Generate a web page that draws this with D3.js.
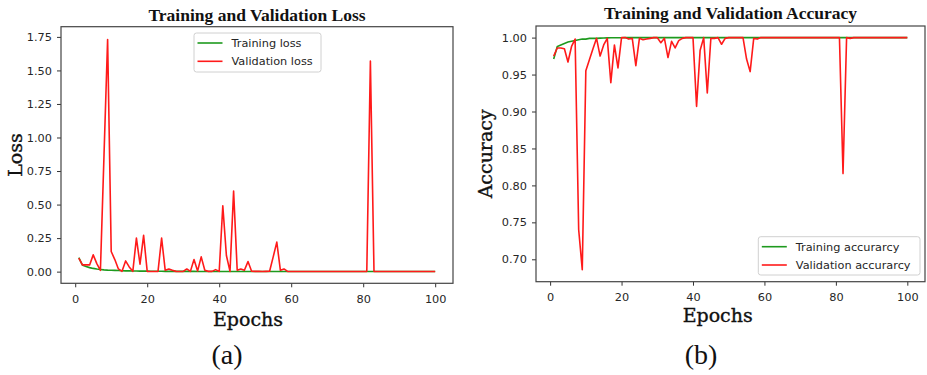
<!DOCTYPE html>
<html>
<head>
<meta charset="utf-8">
<script src="https://cdn.jsdelivr.net/npm/d3@7"></script>
<style>
  body { margin: 0; background: #fff; }
  svg { display: block; }
  .tick text { font-family: "DejaVu Sans", sans-serif; font-size: 11.3px; fill: #262626; }
  .tick line { stroke: #333; }
</style>
</head>
<body>
<svg id="chart" width="927" height="375"></svg>
<script>
// epochs 1..100
const epochs = d3.range(1, 101);

const trainLoss = [
  0.105, 0.048, 0.038, 0.030, 0.024, 0.019, 0.016, 0.013, 0.011, 0.010,
  0.009, 0.008, 0.007, 0.006, 0.006, 0.005, 0.005, 0.004, 0.004, 0.004,
  0.003, 0.003, 0.003, 0.003, 0.002, 0.002, 0.002, 0.002, 0.002, 0.002,
  0.002, 0.002, 0.002, 0.001, 0.001, 0.001, 0.001, 0.001, 0.001, 0.001,
  0.001, 0.001, 0.001, 0.001, 0.001, 0.001, 0.001, 0.001, 0.001, 0.001,
  0.001, 0.001, 0.001, 0.001, 0.001, 0.001, 0.001, 0.001, 0.001, 0.001,
  0.001, 0.001, 0.001, 0.001, 0.001, 0.001, 0.001, 0.001, 0.001, 0.001,
  0.001, 0.001, 0.001, 0.001, 0.001, 0.001, 0.001, 0.001, 0.001, 0.001,
  0.001, 0.001, 0.001, 0.001, 0.001, 0.001, 0.001, 0.001, 0.001, 0.001,
  0.001, 0.001, 0.001, 0.001, 0.001, 0.001, 0.001, 0.001, 0.001, 0.001
];

const valLoss = [
  0.100, 0.050, 0.050, 0.050, 0.125, 0.060, 0.010, 0.870, 1.730, 0.150,
  0.090, 0.020, 0.002, 0.080, 0.035, 0.002, 0.250, 0.055, 0.270, 0.002,
  0.001, 0.001, 0.002, 0.250, 0.010, 0.020, 0.010, 0.002, 0.001, 0.002,
  0.020, 0.002, 0.090, 0.005, 0.110, 0.010, 0.002, 0.002, 0.015, 0.002,
  0.490, 0.120, 0.002, 0.600, 0.010, 0.020, 0.010, 0.075, 0.003, 0.002,
  0.002, 0.001, 0.002, 0.003, 0.110, 0.220, 0.010, 0.020, 0.002, 0.001,
  0.001, 0.001, 0.001, 0.001, 0.001, 0.001, 0.001, 0.001, 0.001, 0.001,
  0.001, 0.001, 0.001, 0.001, 0.001, 0.001, 0.001, 0.001, 0.001, 0.001,
  0.001, 1.570, 0.002, 0.001, 0.001, 0.001, 0.001, 0.001, 0.001, 0.001,
  0.001, 0.001, 0.001, 0.001, 0.001, 0.001, 0.001, 0.001, 0.001, 0.001
];

const trainAcc = [
  0.971, 0.988, 0.990, 0.992, 0.994, 0.995, 0.996, 0.997, 0.998, 0.998,
  0.999, 0.999, 0.999, 0.9993, 0.9995, 0.9996, 0.9997, 0.9998, 0.9998, 0.9999,
  1.0, 1.0, 1.0, 1.0, 1.0, 1.0, 1.0, 1.0, 1.0, 1.0,
  1.0, 1.0, 1.0, 1.0, 1.0, 1.0, 1.0, 1.0, 1.0, 1.0,
  1.0, 1.0, 1.0, 1.0, 1.0, 1.0, 1.0, 1.0, 1.0, 1.0,
  1.0, 1.0, 1.0, 1.0, 1.0, 1.0, 1.0, 1.0, 1.0, 1.0,
  1.0, 1.0, 1.0, 1.0, 1.0, 1.0, 1.0, 1.0, 1.0, 1.0,
  1.0, 1.0, 1.0, 1.0, 1.0, 1.0, 1.0, 1.0, 1.0, 1.0,
  1.0, 1.0, 1.0, 1.0, 1.0, 1.0, 1.0, 1.0, 1.0, 1.0,
  1.0, 1.0, 1.0, 1.0, 1.0, 1.0, 1.0, 1.0, 1.0, 1.0
];

const valAcc = [
  0.975, 0.986, 0.986, 0.985, 0.967, 0.988, 0.998, 0.740, 0.686, 0.955,
  0.970, 0.985, 0.999, 0.975, 0.990, 0.999, 0.939, 0.990, 0.959, 1.000,
  1.000, 0.998, 0.999, 0.962, 0.999, 0.997, 0.998, 0.999, 1.000, 1.000,
  0.993, 0.999, 0.973, 0.995, 0.986, 0.996, 0.999, 1.000, 1.000, 1.000,
  0.907, 0.983, 1.000, 0.925, 0.999, 0.999, 1.000, 0.991, 0.999, 1.000,
  1.000, 1.000, 1.000, 1.000, 0.971, 0.954, 0.999, 0.998, 1.000, 1.000,
  1.000, 1.000, 1.000, 1.000, 1.000, 1.000, 1.000, 1.000, 1.000, 1.000,
  1.000, 1.000, 1.000, 1.000, 1.000, 1.000, 1.000, 1.000, 1.000, 1.000,
  1.000, 0.816, 1.000, 0.999, 1.000, 1.000, 1.000, 1.000, 1.000, 1.000,
  1.000, 1.000, 1.000, 1.000, 1.000, 1.000, 1.000, 1.000, 1.000, 1.000
];

const xTicks = [0, 20, 40, 60, 80, 100];
const lossTicks = [0, 0.25, 0.5, 0.75, 1.0, 1.25, 1.5, 1.75];
const accTicks = [0.70, 0.75, 0.80, 0.85, 0.90, 0.95, 1.00];

const GREEN = '#1e9a1e';
const RED = '#ff1a1a';

const svg = d3.select('#chart');
svg.append('rect').attr('width', 927).attr('height', 375).attr('fill', '#fff');

function drawPanel(cfg) {
  const g = svg.append('g');
  const x = d3.scaleLinear().domain([-3.95, 104.95]).range([cfg.left, cfg.right]);
  const y = d3.scaleLinear().domain(cfg.yDomain).range([cfg.bottom, cfg.top]);

  // axes
  g.append('g')
    .attr('transform', `translate(0,${cfg.bottom})`)
    .call(d3.axisBottom(x).tickValues(xTicks).tickSize(4).tickPadding(7.5).tickFormat(d3.format('d')))
    .call(a => a.select('.domain').remove());
  g.append('g')
    .attr('transform', `translate(${cfg.left},0)`)
    .call(d3.axisLeft(y).tickValues(cfg.yTicks).tickSize(4).tickPadding(5).tickFormat(d3.format('.2f')))
    .call(a => a.select('.domain').remove());

  // lines
  const line = d3.line().x((d, i) => x(epochs[i])).y(d => y(d));
  g.append('path').datum(cfg.train).attr('d', line)
    .attr('fill', 'none').attr('stroke', GREEN).attr('stroke-width', 1.6);
  g.append('path').datum(cfg.val).attr('d', line)
    .attr('fill', 'none').attr('stroke', RED).attr('stroke-width', 1.6)
    .attr('stroke-linejoin', 'round');

  // frame
  g.append('rect')
    .attr('x', cfg.left).attr('y', cfg.top)
    .attr('width', cfg.right - cfg.left).attr('height', cfg.bottom - cfg.top)
    .attr('fill', 'none').attr('stroke', '#444').attr('stroke-width', 1.2);

  // title
  g.append('text')
    .attr('x', (cfg.left + cfg.right) / 2).attr('y', cfg.titleY)
    .attr('text-anchor', 'middle')
    .style('font-family', '"Liberation Serif", "Times New Roman", serif')
    .style('font-weight', 'bold').style('font-size', '17.5px').attr('fill', '#111')
    .text(cfg.title);

  // axis labels
  g.append('text')
    .attr('x', cfg.xLabelX).attr('y', cfg.xLabelY)
    .attr('text-anchor', 'middle')
    .style('font-family', '"DejaVu Serif", serif').style('font-size', '19px')
    .attr('fill', '#111').attr('stroke', '#111').attr('stroke-width', 0.35)
    .text('Epochs');
  g.append('text')
    .attr('transform', `translate(${cfg.yLabelX},${(cfg.top + cfg.bottom) / 2}) rotate(-90)`)
    .attr('text-anchor', 'middle')
    .style('font-family', '"DejaVu Serif", serif').style('font-size', '19px')
    .attr('fill', '#111').attr('stroke', '#111').attr('stroke-width', 0.35)
    .text(cfg.yLabel);

  // legend
  const L = cfg.legend;
  g.append('rect')
    .attr('x', L.x).attr('y', L.y).attr('width', L.w).attr('height', L.h)
    .attr('rx', 2.5).attr('fill', '#fff').attr('fill-opacity', 0.8)
    .attr('stroke', '#d0d0d0').attr('stroke-width', 1);
  [[cfg.names[0], GREEN], [cfg.names[1], RED]].forEach((item, i) => {
    const ly = L.y + 10 + i * 18.3;
    g.append('line')
      .attr('x1', L.x + 3.5).attr('x2', L.x + 28.5).attr('y1', ly).attr('y2', ly)
      .attr('stroke', item[1]).attr('stroke-width', 1.6);
    g.append('text')
      .attr('x', L.x + 37.5).attr('y', ly).attr('dy', '0.35em')
      .style('font-family', '"DejaVu Sans", sans-serif').style('font-size', '11.3px').attr('fill', '#262626')
      .text(item[0]);
  });

  // sub caption
  g.append('text')
    .attr('x', cfg.capX).attr('y', 364)
    .attr('text-anchor', 'middle')
    .style('font-family', '"Liberation Serif", "Times New Roman", serif')
    .style('font-size', '28px').attr('fill', '#111')
    .text(cfg.caption);
}

drawPanel({
  left: 61, right: 453, top: 26.7, bottom: 283.3,
  yDomain: [-0.087, 1.826], yTicks: lossTicks,
  train: trainLoss, val: valLoss,
  title: 'Training and Validation Loss', titleY: 20.5,
  yLabel: 'Loss', yLabelX: 22, xLabelX: 248, xLabelY: 326,
  names: ['Training loss', 'Validation loss'],
  legend: { x: 194, y: 33, w: 127, h: 39 },
  caption: '(a)', capX: 227
});

drawPanel({
  left: 536, right: 925, top: 26, bottom: 281.7,
  yDomain: [0.6697, 1.0157], yTicks: accTicks,
  train: trainAcc, val: valAcc,
  title: 'Training and Validation Accuracy', titleY: 18.5,
  yLabel: 'Accuracy', yLabelX: 492, xLabelX: 717.7, xLabelY: 322.3,
  names: ['Training accurarcy', 'Validation accurarcy'],
  legend: { x: 758.3, y: 236.7, w: 161.7, h: 38.3 },
  caption: '(b)', capX: 701
});
</script>
</body>
</html>
